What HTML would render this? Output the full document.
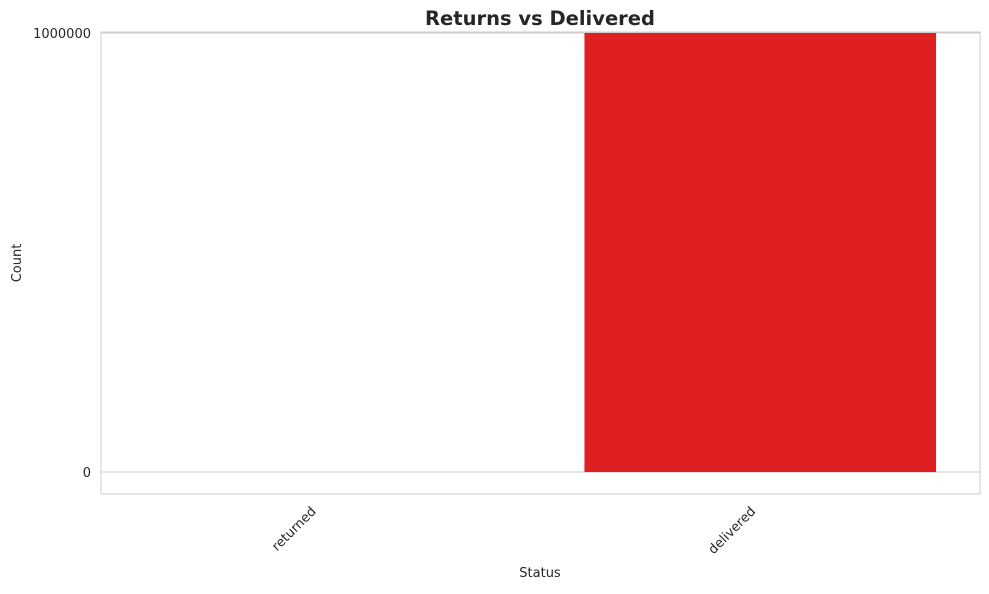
<!DOCTYPE html>
<html><head><meta charset="utf-8"><style>
body{margin:0;background:#fff;font-family:"Liberation Sans","DejaVu Sans",sans-serif;}
</style></head><body>
<svg id="chart" width="989" height="589" xmlns="http://www.w3.org/2000/svg" font-family="'DejaVu Sans','Liberation Sans',sans-serif">
<text x="540" y="25" text-anchor="middle" font-size="19.5" font-weight="bold" fill="#262626">Returns vs Delivered</text>
<rect x="101" y="32" width="879" height="462" fill="#fff" stroke="#cccccc" stroke-width="1"/>
<g id="grid"></g><g id="bars"></g><g id="yticks"></g><g id="xticks"></g>
<text transform="translate(21,263) rotate(-90)" text-anchor="middle" font-size="13" fill="#262626">Count</text>
<text x="540" y="577" text-anchor="middle" font-size="13" fill="#262626">Status</text>
</svg>
<script>
const categories = ["returned", "delivered"];
const counts = [0, 1000000];
const yTickValues = [0, 1000000];
const yTickLabels = ["0", "1000000"];

const NS = "http://www.w3.org/2000/svg";
const x0 = 101, x1 = 980, yTop = 32, yBot = 494;
const dMin = -50000, dMax = 1002300;
const y = v => yBot - (v - dMin) / (dMax - dMin) * (yBot - yTop);
const band = (x1 - x0) / categories.length;
const xc = i => x0 + band * (i + 0.5);
function mk(tag, attrs, parent){const e=document.createElementNS(NS,tag);for(const k in attrs)e.setAttribute(k,attrs[k]);document.getElementById(parent).appendChild(e);return e;}

yTickValues.forEach((v,i)=>{
  const g = mk("line",{x1:x0,x2:x1,y1:y(v),y2:y(v),stroke:"#cccccc","stroke-width":1},"grid");
  
  
  const t = mk("text",{x:x0-10,y:y(v)+5,"text-anchor":"end","font-size":13,fill:"#262626"},"yticks");
  t.textContent = yTickLabels[i];
  
  
});
categories.forEach((c,i)=>{
  const w = band*0.8;
  const h = Math.max(0, y(0)-y(counts[i]));
  const r = mk("rect",{x:xc(i)-w/2,y:y(counts[i]),width:w,height:h,fill:"#df2020"},"bars");
  
  
  const t = mk("text",{transform:`translate(${xc(i)-4},${yBot+18}) rotate(-45)`,"text-anchor":"end","font-size":13,fill:"#262626"},"xticks");
  t.textContent = c;
  
  
});
</script>
</body></html>
